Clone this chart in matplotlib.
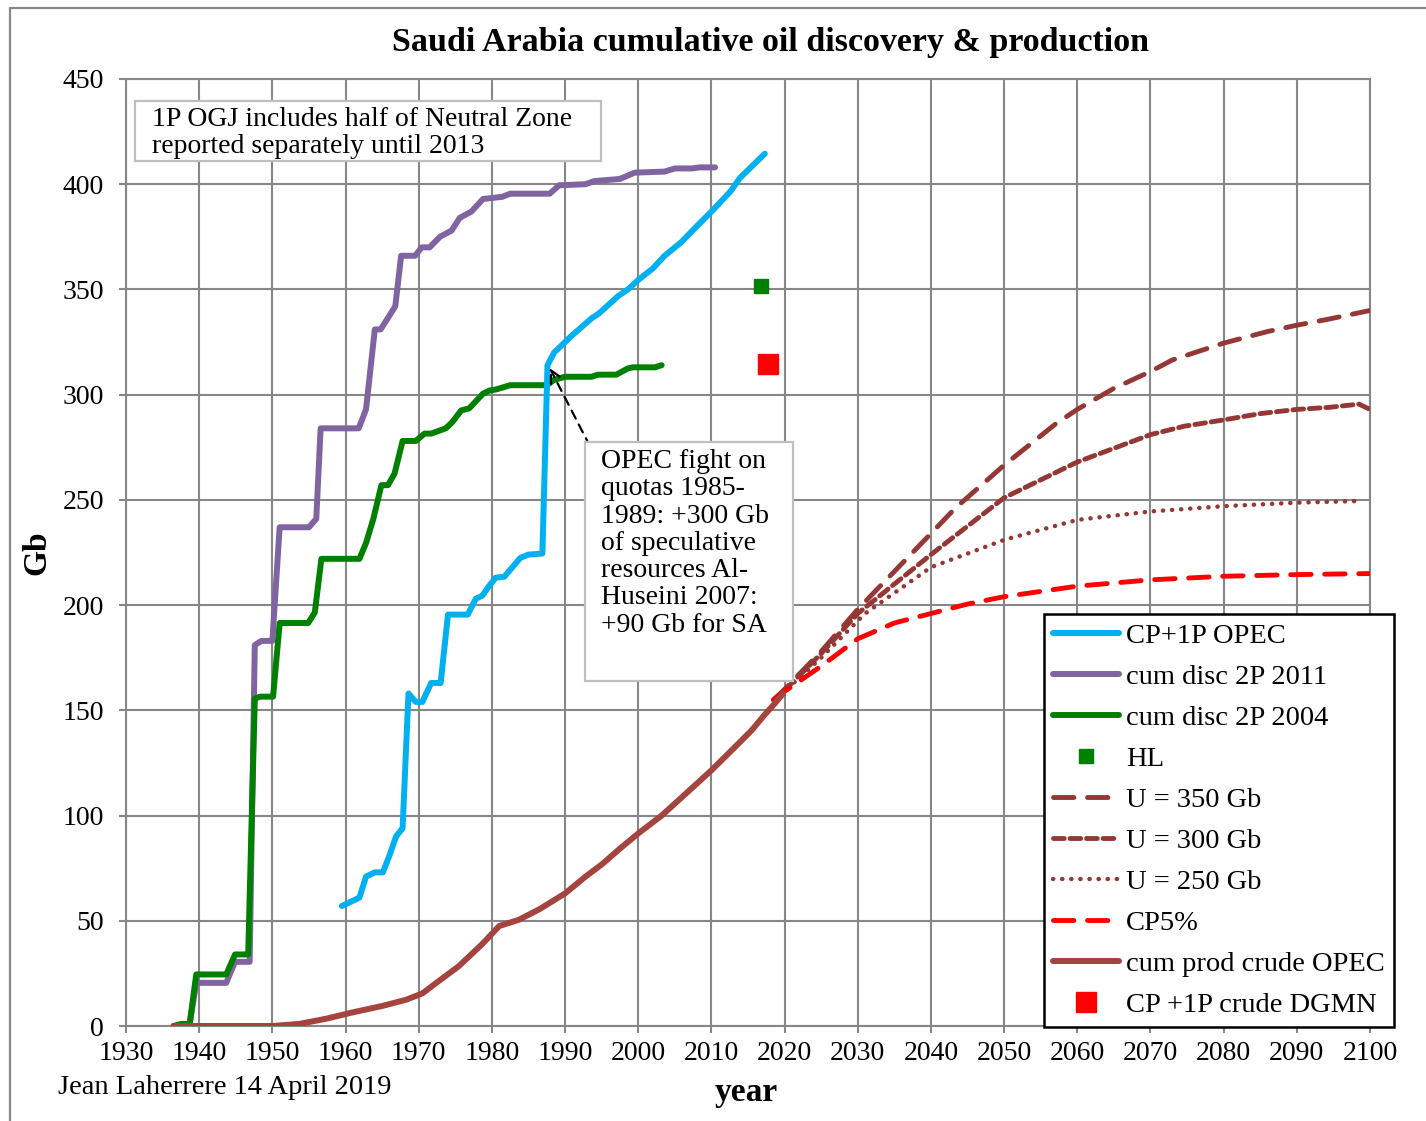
import matplotlib
matplotlib.use("Agg")
import matplotlib.pyplot as plt
from matplotlib.lines import Line2D
from matplotlib.patches import Rectangle

plt.rcParams['font.family'] = ['Liberation Serif', 'DejaVu Serif']

# ---------------- data ----------------
opec_years = [1959.5, 1961.9, 1962.8, 1964.0, 1965.1, 1966.0, 1966.9, 1967.8, 1968.6, 1969.6,
              1970.5, 1971.7, 1973.0, 1974.0, 1976.7, 1977.8, 1978.7, 1979.6, 1980.5, 1981.7,
              1982.8, 1983.9, 1985.0, 1986.9, 1987.6, 1988.5, 1989.1, 1990.9, 1993.7, 1994.6,
              1997.3, 1998.6, 2000.0, 2002.0, 2003.6, 2005.9, 2007.7, 2010.0, 2011.1, 2012.7,
              2013.9, 2017.3]
opec_vals = [57, 61, 71, 73, 73, 81, 90, 94, 158, 154,
             154, 163, 163, 195.5, 195.5, 203, 204.5, 209, 213, 213.5,
             218, 222.5, 224, 224.5, 314, 320, 322, 328, 336.5, 338.5,
             347, 350, 354.5, 360, 366, 372.5, 379, 387, 391, 397,
             403, 414.5]

d2011_years = [1936.5, 1938.7, 1939.6, 1943.7, 1944.9, 1946.9, 1947.6, 1948.5, 1950.0, 1951.0,
               1955.0, 1956.0, 1956.6, 1961.8, 1962.8, 1964.0, 1964.8, 1966.8, 1967.6, 1969.5,
               1970.4, 1971.5, 1972.9, 1974.5, 1975.6, 1977.2, 1978.8, 1981.4, 1982.5, 1987.9,
               1989.2, 1992.8, 1994.0, 1997.5, 1999.5, 2003.6, 2005.0, 2007.3, 2008.4, 2010.5]
d2011_vals = [0, 1, 20.5, 20.5, 30.5, 30.5, 181, 183, 183, 237,
              237, 241, 284, 284, 293, 331, 331, 342, 366, 366,
              370, 370, 375, 378, 384, 387, 393, 394, 395.5, 395.5,
              399.5, 400, 401.5, 402.5, 405.5, 406, 407.5, 407.5, 408, 408]

d2004_years = [1936.5, 1937.6, 1938.7, 1939.6, 1943.7, 1944.9, 1946.7, 1947.6, 1948.3, 1950.1,
               1951.0, 1954.9, 1955.8, 1956.7, 1961.9, 1962.8, 1963.8, 1964.9, 1965.8, 1966.7,
               1967.8, 1969.6, 1970.8, 1971.7, 1973.7, 1974.6, 1975.8, 1976.9, 1978.8, 1979.7,
               1980.6, 1982.5, 1987.5, 1988.5, 1990.0, 1993.6, 1994.5, 1997.0, 1998.6, 1999.3,
               2002.3, 2003.2]
d2004_vals = [0, 1, 1, 24.5, 24.5, 34, 34, 155.5, 156.5, 156.5,
              191.5, 191.5, 196.5, 222, 222, 229.5, 241, 257, 257, 262.5,
              278, 278, 281.5, 281.5, 284, 287, 292.5, 293.5, 300.5, 302,
              302.5, 304.5, 304.5, 307, 308.5, 308.5, 309.5, 309.5, 312.5, 313,
              313, 314]

prod_years = [1936.5, 1950.0, 1953.7, 1957.4, 1961.0, 1965.0, 1968.3, 1970.5, 1972.8, 1975.5,
              1978.7, 1981.0, 1983.7, 1986.5, 1990.0, 1992.8, 1995.1, 1997.4, 2000.0, 2003.2,
              2005.9, 2010.0, 2013.2, 2015.5, 2017.3, 2018.6, 2019.8]
prod_vals = [0, 0, 1, 3.5, 6.5, 9.5, 12.5, 15.5, 21.5, 28.5,
             39, 47.5, 50.5, 55.5, 63, 71, 77, 84, 91.5, 100,
             108.5, 121.5, 132.5, 140.5, 148, 153, 158]

u350_years = [2018.5, 2020, 2025, 2030, 2035, 2040, 2043.3, 2050, 2057, 2060,
              2065, 2070, 2073, 2080, 2086, 2090, 2094.5, 2100]
u350_vals = [155, 160, 178, 198, 216, 234, 246, 266.5, 286, 293,
             303, 311, 316.5, 324.5, 330, 333, 336, 340]

u300_years = [2018.5, 2020, 2025, 2030, 2040, 2050, 2060, 2070, 2074.6, 2080,
              2085, 2090, 2094.5, 2098.5, 2100]
u300_vals = [155, 159.5, 177, 196, 224, 251, 268, 281, 285, 288,
             291, 293, 294, 295.5, 293]

u250_years = [2018.5, 2020, 2025, 2031, 2040, 2050, 2060, 2070, 2080, 2090, 2099]
u250_vals = [155, 159, 175, 196, 218, 231, 240.5, 244.5, 247, 248.7, 249.5]

cp5_years = [2018.5, 2020, 2025, 2030, 2035, 2040, 2045, 2050, 2060, 2070, 2080, 2090, 2100]
cp5_vals = [155, 159, 171, 184, 191.5, 196, 200.5, 204, 209, 212, 213.7, 214.5, 215]

hl_year, hl_val = [2016.8], [351.5]
dgmn_year, dgmn_val = [2017.7], [314.5]

x_ticks = list(range(1930, 2101, 10))
y_ticks = list(range(0, 451, 50))

# ---------------- figure ----------------
W, H = 1426, 1121
fig = plt.figure(figsize=(W / 100, H / 100), dpi=100)

def fx(x):
    return x / W

def fy(y):
    return 1 - y / H

left, right, top, bottom = 126, 1370, 79, 1026
ax = fig.add_axes([fx(left), fy(bottom), (right - left) / W, (bottom - top) / H])

GRID = '#878787'
c_cyan = '#00B0F0'
c_purple = '#8064A2'
c_green = '#008000'
c_prod = '#A5443F'
c_u = '#953735'
c_red = '#FF0000'
LW = 4.3

ax.plot(opec_years, opec_vals, color=c_cyan, lw=LW, solid_capstyle='round', solid_joinstyle='round', label='CP+1P OPEC', zorder=5)
ax.plot(d2011_years, d2011_vals, color=c_purple, lw=LW, solid_capstyle='round', solid_joinstyle='round', label='cum disc 2P 2011', zorder=4)
ax.plot(d2004_years, d2004_vals, color=c_green, lw=LW, solid_capstyle='round', solid_joinstyle='round', label='cum disc 2P 2004', zorder=4)
ax.plot(hl_year, hl_val, ls='none', marker='s', ms=10.5, color=c_green, label='HL', zorder=6)
ax.plot(u350_years, u350_vals, color=c_u, lw=3.5, ls=(0, (4.2, 2.8)), dash_capstyle='round', label='U = 350 Gb', zorder=3)
ax.plot(u300_years, u300_vals, color=c_u, lw=3.5, ls=(0, (2.2, 1.2)), dash_capstyle='round', label='U = 300 Gb', zorder=3)
ax.plot(u250_years, u250_vals, color=c_u, lw=3.2, ls=(0, (0.05, 2.0)), dash_capstyle='round', label='U = 250 Gb', zorder=3)
ax.plot(cp5_years, cp5_vals, color=c_red, lw=3.5, ls=(0, (4.2, 2.8)), dash_capstyle='round', label='CP5%', zorder=3)
ax.plot(prod_years, prod_vals, color=c_prod, lw=LW, solid_capstyle='round', solid_joinstyle='round', label='cum prod crude OPEC', zorder=4)
ax.plot(dgmn_year, dgmn_val, ls='none', marker='s', ms=14, color=c_red, label='CP +1P crude DGMN', zorder=6)

ax.set_xlim(1930, 2100)
ax.set_ylim(0, 450)
ax.set_xticks(x_ticks)
ax.set_yticks(y_ticks)
ax.set_xticklabels([str(t) for t in x_ticks])
ax.set_yticklabels([str(t) for t in y_ticks])
ax.grid(True, color=GRID, lw=1.5, zorder=0)
ax.set_axisbelow(True)
for s in ax.spines.values():
    s.set_color(GRID)
    s.set_linewidth(1.5)
ax.tick_params(axis='both', direction='out', length=5, width=1.5, color=GRID,
               labelsize=20, labelcolor='black')
ax.tick_params(axis='y', pad=11)
ax.tick_params(axis='x', pad=6)

# legend
leg = fig.legend(loc='upper left', bbox_to_anchor=(fx(1044), fy(614)), bbox_transform=fig.transFigure,
                 borderaxespad=0, fontsize=20.5, frameon=True, fancybox=False,
                 edgecolor='black', framealpha=1, handlelength=2.3, handletextpad=0.25,
                 labelspacing=0.53, borderpad=0.32)
leg.get_frame().set_linewidth(1.8)
leg.set_zorder(20)

# title & labels
fig.text(fx(770), fy(42), 'Saudi Arabia cumulative oil discovery & production', ha='center', va='center',
         fontsize=24.5, fontweight='bold')
fig.text(fx(37), fy(553), 'Gb', ha='center', va='center', rotation=90, fontsize=24, fontweight='bold')
fig.text(fx(746), fy(1093), 'year', ha='center', va='center', fontsize=24, fontweight='bold')
fig.text(fx(58), fy(1087), 'Jean Laherrere 14 April 2019', ha='left', va='center', fontsize=20.5)

# top-left note box
fig.patches.append(Rectangle((fx(135), fy(161)), (601 - 135) / W, (161 - 101) / H,
                             transform=fig.transFigure, facecolor='white', edgecolor='#BFBFBF',
                             lw=1.6, zorder=10))
fig.text(fx(152), fy(133), '1P OGJ includes half of Neutral Zone\nreported separately until 2013',
         ha='left', va='center', fontsize=20, linespacing=1.1, zorder=11)

# annotation box
fig.patches.append(Rectangle((fx(585), fy(681)), (793 - 585) / W, (681 - 442) / H,
                             transform=fig.transFigure, facecolor='white', edgecolor='#BFBFBF',
                             lw=1.6, zorder=10))
fig.text(fx(601), fy(449), 'OPEC fight on\nquotas 1985-\n1989: +300 Gb\nof speculative\nresources Al-\nHuseini 2007:\n+90 Gb for SA',
         ha='left', va='top', fontsize=20, linespacing=1.12, zorder=11)
ax.annotate('', xy=(1987.9, 312.7), xytext=(1993.4, 275.5),
            arrowprops=dict(arrowstyle='->', color='black', lw=1.6, ls=(0, (4, 3)),
                            mutation_scale=22, shrinkA=0, shrinkB=0), zorder=12)

# outer frame
fig.add_artist(Line2D([fx(10), fx(10), fx(1426)], [fy(1121), fy(8), fy(8)],
                      transform=fig.transFigure, color=GRID, lw=1.6))

fig.savefig('out.png', dpi=100, facecolor='white')
